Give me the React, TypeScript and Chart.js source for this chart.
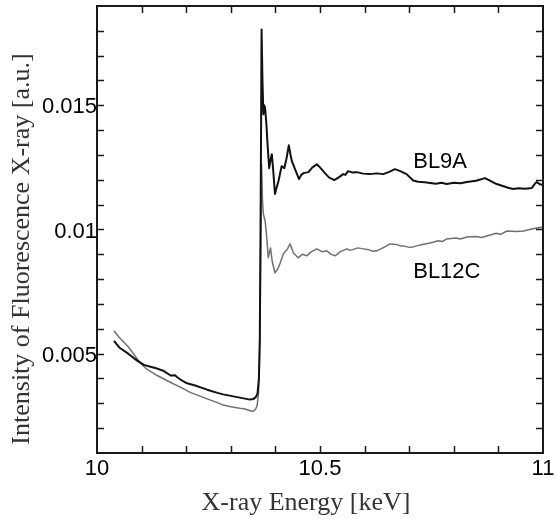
import { useEffect, useRef } from "react";
import { Chart, registerables } from "chart.js";

Chart.register(...registerables);

// Ga K-edge fluorescence spectra measured at two beamlines
const bl9aEnergy = [
  10.038, 10.05, 10.07, 10.09, 10.105, 10.12, 10.135, 10.15, 10.16, 10.165,
  10.175, 10.18, 10.19, 10.2, 10.22, 10.247, 10.27, 10.283, 10.3, 10.32,
  10.343, 10.35, 10.356, 10.36, 10.363, 10.365, 10.367, 10.369, 10.371, 10.373,
  10.375, 10.377, 10.38, 10.382, 10.386, 10.389, 10.392, 10.395, 10.399, 10.403,
  10.407, 10.411, 10.414, 10.42, 10.425, 10.43, 10.434, 10.437, 10.444, 10.453,
  10.458, 10.463, 10.474, 10.483, 10.493, 10.5, 10.511, 10.52, 10.532, 10.542,
  10.552, 10.557, 10.563, 10.572, 10.582, 10.597, 10.612, 10.627, 10.642, 10.655,
  10.668, 10.68, 10.694, 10.709, 10.72, 10.735, 10.747, 10.76, 10.772, 10.784,
  10.8, 10.815, 10.829, 10.85, 10.87, 10.883, 10.896, 10.91, 10.922, 10.933,
  10.945, 10.96, 10.975, 10.982, 10.986, 10.993, 11.0,
];
const bl9aIntensity = [
  0.00552, 0.00525, 0.005, 0.00472, 0.00455, 0.00447, 0.0044, 0.0043, 0.00418, 0.00412,
  0.00413, 0.00405, 0.00392, 0.00382, 0.00372, 0.00355, 0.00342, 0.00336, 0.0033, 0.00323,
  0.00315, 0.00317, 0.00325, 0.0034, 0.004, 0.0055, 0.011, 0.01805, 0.016, 0.01464,
  0.015, 0.01488, 0.0142, 0.01355, 0.01247, 0.0128, 0.01303, 0.0124, 0.01143, 0.0117,
  0.01195, 0.0123, 0.01255, 0.01247, 0.01287, 0.01339, 0.013, 0.01275, 0.01243, 0.01203,
  0.0122, 0.01227, 0.01231, 0.0125, 0.01263, 0.0125, 0.01227, 0.0121, 0.01199, 0.0121,
  0.01223, 0.0122, 0.01235, 0.0123, 0.01231, 0.01225, 0.01223, 0.01226, 0.01223, 0.01232,
  0.01243, 0.01235, 0.01223, 0.01197, 0.01192, 0.0119, 0.01187, 0.01184, 0.01188, 0.01183,
  0.01188, 0.01186, 0.01191, 0.01196, 0.01207, 0.01195, 0.01183, 0.01175, 0.01168, 0.01163,
  0.01166, 0.01164, 0.01167, 0.01185, 0.01191, 0.01182, 0.01179,
];

const bl12cEnergy = [
  10.038, 10.05, 10.07, 10.096, 10.11, 10.135, 10.164, 10.19, 10.21, 10.247,
  10.27, 10.283, 10.3, 10.32, 10.33, 10.34, 10.348, 10.352, 10.356, 10.359,
  10.362, 10.364, 10.366, 10.368, 10.369, 10.371, 10.373, 10.377, 10.38, 10.384,
  10.389, 10.393, 10.399, 10.405, 10.41, 10.418, 10.427, 10.433, 10.44, 10.451,
  10.46, 10.47, 10.48, 10.493, 10.505, 10.515, 10.525, 10.534, 10.545, 10.56,
  10.567, 10.575, 10.585, 10.597, 10.61, 10.618, 10.627, 10.64, 10.657, 10.672,
  10.68, 10.687, 10.7, 10.709, 10.725, 10.735, 10.747, 10.765, 10.775, 10.784,
  10.805, 10.815, 10.829, 10.85, 10.862, 10.874, 10.895, 10.905, 10.919, 10.94,
  10.956, 10.97, 10.986, 11.0,
];
const bl12cIntensity = [
  0.00592, 0.00565, 0.00528, 0.00465, 0.0044, 0.00412, 0.00385, 0.00362, 0.00343, 0.00318,
  0.00303, 0.00293, 0.00286, 0.0028, 0.00278, 0.00272, 0.00268, 0.0027, 0.00278, 0.0029,
  0.0034, 0.0045, 0.007, 0.011, 0.01263, 0.0112, 0.01062, 0.01034, 0.0098, 0.00886,
  0.00926, 0.0087, 0.00826, 0.0084, 0.00861, 0.00902, 0.00922, 0.00942, 0.00906, 0.00886,
  0.009, 0.00894, 0.0091, 0.00922, 0.0091, 0.00914, 0.009, 0.00894, 0.0091, 0.00922,
  0.00916, 0.0092, 0.00926, 0.00922, 0.00918, 0.00912, 0.00914, 0.00925, 0.00942, 0.0094,
  0.00934, 0.00934, 0.00928, 0.0093, 0.00938, 0.00942, 0.00946, 0.00955, 0.00952, 0.00962,
  0.00966, 0.00962, 0.0097, 0.00972, 0.00968, 0.00974, 0.00985, 0.0098, 0.00994, 0.00992,
  0.00994, 0.01, 0.01006, 0.0101,
];

const seriesNames = ["BL9A", "BL12C"];
const xTickLabels = [10, 10.5, 11];
const yTickLabels = [0.005, 0.01, 0.015];
const xTitle = "X-ray Energy [keV]";
const yTitle = "Intensity of Fluorescence X-ray [a.u.]";

const WIDTH = 556;
const HEIGHT = 519;
const SANS = '"Liberation Sans", Arial, sans-serif';
const SERIF = '"Liberation Serif", "Times New Roman", serif';

// where the series names sit, in data units (energy, intensity of baseline)
const nameAnchors = [
  { x: 10.709, y: 0.01247 },
  { x: 10.709, y: 0.00805 },
];

const toPoints = (xs: number[], ys: number[]) => xs.map((x, i) => ({ x, y: ys[i] }));

const framePlugin = {
  id: "frame",
  afterDraw(chart: any) {
    const { ctx, chartArea: a, scales } = chart;
    const xs = scales.x;
    const ys = scales.y;
    ctx.save();

    // frame
    ctx.strokeStyle = "#1a1a1a";
    ctx.lineWidth = 2;
    ctx.strokeRect(a.left, a.top, a.right - a.left, a.bottom - a.top);

    // inward ticks
    ctx.lineWidth = 1.5;
    ctx.beginPath();
    for (let i = 1; i < 10; i++) {
      const px = Math.round(xs.getPixelForValue(10 + i * 0.1)) + 0.5;
      ctx.moveTo(px, a.bottom);
      ctx.lineTo(px, a.bottom - 7);
      ctx.moveTo(px, a.top);
      ctx.lineTo(px, a.top + 7);
    }
    for (let i = 2; i <= 18; i++) {
      const py = Math.round(ys.getPixelForValue(i * 0.001)) + 0.5;
      ctx.moveTo(a.left, py);
      ctx.lineTo(a.left + 7, py);
      ctx.moveTo(a.right, py);
      ctx.lineTo(a.right - 7, py);
    }
    ctx.stroke();

    // tick labels
    ctx.fillStyle = "#000";
    ctx.font = `22px ${SANS}`;
    ctx.textAlign = "center";
    ctx.textBaseline = "alphabetic";
    xTickLabels.forEach((v) => {
      ctx.fillText(String(v), xs.getPixelForValue(v), a.bottom + 22);
    });
    ctx.textAlign = "right";
    yTickLabels.forEach((v) => {
      ctx.fillText(String(v), a.left, ys.getPixelForValue(v) + 8);
    });

    // series names
    ctx.textAlign = "left";
    nameAnchors.forEach((p, i) => {
      ctx.fillText(seriesNames[i], xs.getPixelForValue(p.x), ys.getPixelForValue(p.y));
    });

    // axis titles
    ctx.fillStyle = "#333";
    ctx.font = `26px ${SERIF}`;
    ctx.textAlign = "center";
    ctx.fillText(xTitle, 306, 510);
    ctx.translate(29, 249);
    ctx.rotate(-Math.PI / 2);
    ctx.fillText(yTitle, 0, 0);

    ctx.restore();
  },
};

export default function App() {
  const canvasRef = useRef<HTMLCanvasElement | null>(null);

  useEffect(() => {
    const canvas = canvasRef.current;
    if (!canvas) return;
    const chart = new Chart(canvas, {
      type: "line",
      data: {
        datasets: [
          {
            label: seriesNames[0],
            data: toPoints(bl9aEnergy, bl9aIntensity),
            borderColor: "#111",
            borderWidth: 2,
            pointRadius: 0,
            tension: 0,
            borderJoinStyle: "round",
          },
          {
            label: seriesNames[1],
            data: toPoints(bl12cEnergy, bl12cIntensity),
            borderColor: "#707070",
            borderWidth: 1.5,
            pointRadius: 0,
            tension: 0,
            borderJoinStyle: "round",
          },
        ],
      },
      options: {
        responsive: false,
        animation: false,
        devicePixelRatio: 1,
        layout: { padding: { left: 97, right: 13, top: 6, bottom: 66 } },
        plugins: {
          legend: { display: false },
          tooltip: { enabled: false },
        },
        scales: {
          x: { type: "linear", min: 10, max: 11, display: false },
          y: { type: "linear", min: 0.001, max: 0.019, display: false },
        },
      },
      plugins: [framePlugin],
    });
    return () => chart.destroy();
  }, []);

  return (
    <div style={{ position: "fixed", left: 0, top: 0, width: WIDTH, height: HEIGHT, background: "#fff" }}>
      <canvas ref={canvasRef} width={WIDTH} height={HEIGHT} />
    </div>
  );
}
